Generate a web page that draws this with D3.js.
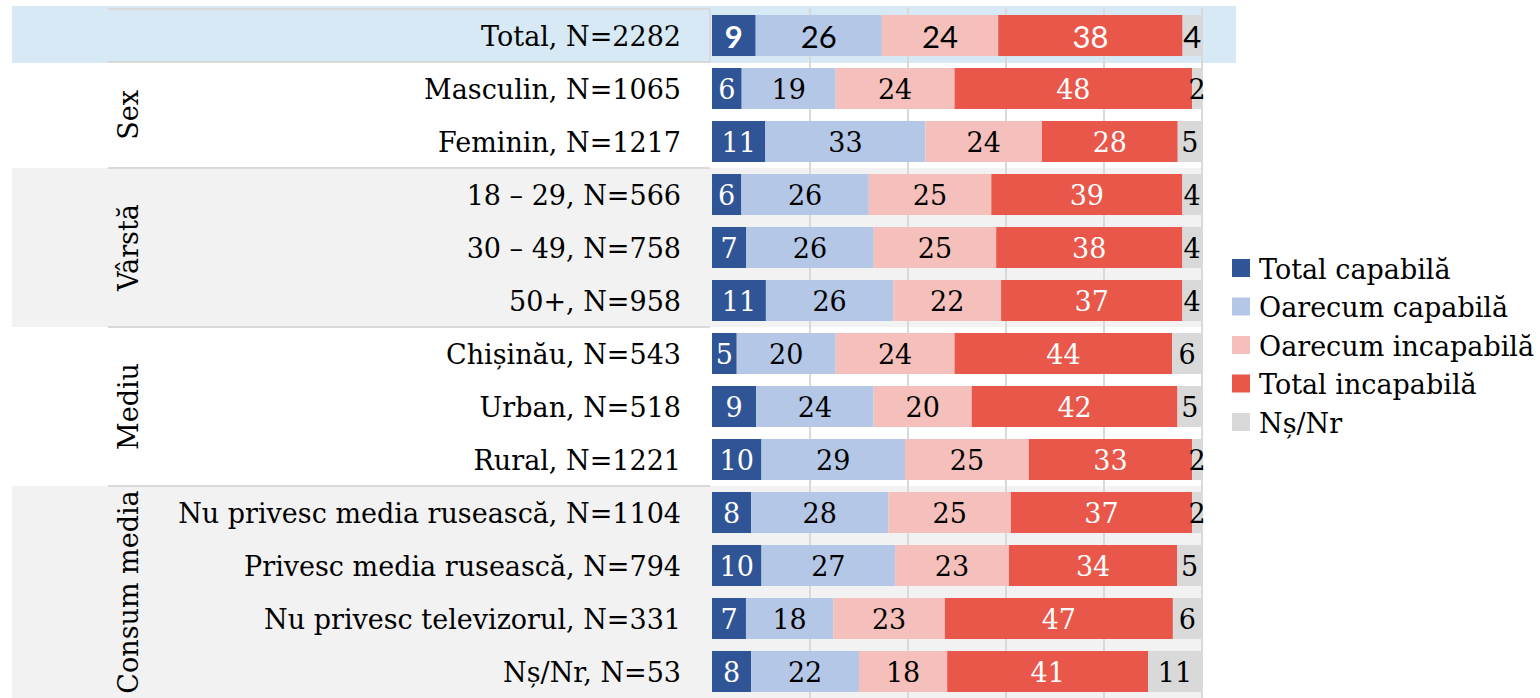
<!DOCTYPE html>
<html>
<head>
<meta charset="utf-8">
<script src="https://cdnjs.cloudflare.com/ajax/libs/d3/7.8.5/d3.min.js"></script>
<style>
    html, body { margin: 0; padding: 0; background: #ffffff; }
    svg { display: block; }
    .serif { font-family: "DejaVu Serif", serif; }
</style>
</head>
<body>
<svg id="chart" width="1540" height="698"></svg>
<script>
// Data
const categories = [
    'Total, N=2282',
    'Masculin, N=1065',
    'Feminin, N=1217',
    '18 – 29, N=566',
    '30 – 49, N=758',
    '50+, N=958',
    'Chișinău, N=543',
    'Urban, N=518',
    'Rural, N=1221',
    'Nu privesc media rusească, N=1104',
    'Privesc media rusească, N=794',
    'Nu privesc televizorul, N=331',
    'Nș/Nr, N=53',
];
const rowGroups = ['', 'Sex', 'Sex', 'Vârstă', 'Vârstă', 'Vârstă', 'Mediu', 'Mediu', 'Mediu',
    'Consum media', 'Consum media', 'Consum media', 'Consum media'];
const shadedGroups = ['Vârstă', 'Consum media'];

const seriesNames = ['Total capabilă', 'Oarecum capabilă', 'Oarecum incapabilă', 'Total incapabilă', 'Nș/Nr'];
const totalCapabila = [9, 6, 11, 6, 7, 11, 5, 9, 10, 8, 10, 7, 8];
const oarecumCapabila = [26, 19, 33, 26, 26, 26, 20, 24, 29, 28, 27, 18, 22];
const oarecumIncapabila = [24, 24, 24, 25, 25, 22, 24, 20, 25, 25, 23, 23, 18];
const totalIncapabila = [38, 48, 28, 39, 38, 37, 44, 42, 33, 37, 34, 47, 41];
const nsNr = [4, 2, 5, 4, 4, 4, 6, 5, 2, 2, 5, 6, 11];
const gridTicks = [0.2, 0.4, 0.6, 0.8, 1];

const colors = ['#2f5597', '#b4c7e7', '#f5c0bb', '#e8574a', '#d9d9d9'];
const labelColors = ['#ffffff', '#000000', '#000000', '#ffffff', '#000000'];

//Helpers
const translate = (x, y) => `translate(${x}, ${y})`;

const width = 1540, height = 698;
const plotLeft = 712, plotRight = 1202;
const lineColor = '#d9d9d9';
const fontSize = 27;

const svg = d3.select('#chart');

// Scales
const x = d3.scaleLinear().domain([0, 1]).range([plotLeft, plotRight]);
const y = d3.scaleBand()
    .domain(categories)
    .range([9, 698])
    .paddingInner(0.226)
    .paddingOuter(0.113);
const gap = (y.step() - y.bandwidth()) / 2;
const rowTop = c => y(c) - gap;
const rowBottom = c => y(c) + y.bandwidth() + gap;

// stacked rows, normalised to each row's total
const seriesValues = [totalCapabila, oarecumCapabila, oarecumIncapabila, totalIncapabila, nsNr];
const rows = categories.map((cat, i) => {
    const vals = seriesValues.map(s => s[i]);
    const sum = d3.sum(vals);
    let acc = 0;
    const segs = vals.map((v, k) => {
        const seg = { cat, k, value: v, x0: acc / sum, x1: (acc + v) / sum };
        acc += v;
        return seg;
    });
    return { cat, idx: i, group: rowGroups[i], segs };
});

// Group extents
const groupNames = Array.from(new Set(rowGroups.filter(g => g)));
const groups = groupNames.map(g => {
    const cats = categories.filter((c, i) => rowGroups[i] === g);
    return { name: g, top: rowTop(cats[0]), bottom: rowBottom(cats.at(-1)) };
});

// Backgrounds
svg.selectAll('rect.groupbg')
    .data(groups.filter(g => shadedGroups.includes(g.name)))
    .join('rect')
    .attr('class', 'groupbg')
    .attr('x', 12)
    .attr('y', d => d.top)
    .attr('width', x(1) + 1 - 12)
    .attr('height', d => d.bottom - d.top)
    .attr('fill', '#f2f2f2');

const totalCat = categories[0];
svg.append('rect')
    .attr('x', 12)
    .attr('y', rowTop(totalCat) - 3)
    .attr('width', 1236 - 12)
    .attr('height', rowBottom(totalCat) - rowTop(totalCat) + 4)
    .attr('fill', '#d6e9f5');

// Row separators (label side)
const sepYs = [rowTop(totalCat), rowBottom(totalCat)].concat(groups.slice(0, -1).map(g => g.bottom));
svg.selectAll('line.sep')
    .data(sepYs)
    .join('line')
    .attr('class', 'sep')
    .attr('x1', 108)
    .attr('x2', 710)
    .attr('y1', d => d)
    .attr('y2', d => d)
    .attr('stroke', lineColor)
    .attr('stroke-width', 2);

svg.append('line')
    .attr('x1', 710).attr('x2', 710)
    .attr('y1', rowTop(totalCat)).attr('y2', rowBottom(totalCat))
    .attr('stroke', lineColor)
    .attr('stroke-width', 2);

// Vertical grid
svg.append('g')
    .attr('class', 'grid')
    .selectAll('line')
    .data(gridTicks)
    .join('line')
    .attr('x1', d => x(d))
    .attr('x2', d => x(d))
    .attr('y1', rowTop(totalCat) - 1)
    .attr('y2', height)
    .attr('stroke', lineColor)
    .attr('stroke-width', 2);

// Bars
const rowG = svg.selectAll('g.row')
    .data(rows)
    .join('g')
    .attr('class', 'row')
    .attr('transform', d => translate(0, y(d.cat)));

rowG.selectAll('rect')
    .data(d => d.segs)
    .join('rect')
    .attr('x', d => x(d.x0))
    .attr('y', 0)
    .attr('width', d => x(d.x1) - x(d.x0))
    .attr('height', y.bandwidth())
    .attr('fill', d => colors[d.k]);

// Bar labels
rowG.each((row, i, nodes) => {
    const isTotal = row.idx === 0;
    d3.select(nodes[i]).selectAll('text')
        .data(row.segs)
        .join('text')
        .attr('class', isTotal ? null : 'serif')
        .attr('x', d => (x(d.x0) + x(d.x1)) / 2)
        .attr('y', y.bandwidth() / 2 + 1)
        .attr('text-anchor', 'middle')
        .attr('dominant-baseline', 'central')
        .attr('font-family', isTotal ? 'Lato, "Open Sans", sans-serif' : null)
        .attr('font-size', isTotal ? 31 : fontSize)
        .attr('font-weight', d => isTotal && d.k === 0 ? 'bold' : 'normal')
        .attr('fill', d => labelColors[d.k])
        .text(d => d.value);
});

// Category labels
svg.append('g')
    .selectAll('text')
    .data(categories)
    .join('text')
    .attr('class', 'serif')
    .attr('x', 681)
    .attr('y', d => y(d) + y.bandwidth() / 2 + 1)
    .attr('text-anchor', 'end')
    .attr('dominant-baseline', 'central')
    .attr('font-size', fontSize)
    .attr('fill', '#000')
    .text(d => d);

// Group labels (rotated)
svg.append('g')
    .selectAll('text')
    .data(groups)
    .join('text')
    .attr('class', 'serif')
    .attr('transform', d => `${translate(128, (d.top + d.bottom) / 2)} rotate(-90)`)
    .attr('text-anchor', 'middle')
    .attr('dominant-baseline', 'central')
    .attr('font-size', fontSize)
    .attr('fill', '#000')
    .text(d => d.name);

// Legend
const legend = svg.append('g')
    .attr('transform', translate(1232, 268));
const legendItem = legend.selectAll('g')
    .data(seriesNames)
    .join('g')
    .attr('transform', (d, i) => translate(0, i * 38.5));
legendItem.append('rect')
    .attr('x', 0)
    .attr('y', -9)
    .attr('width', 18)
    .attr('height', 18)
    .attr('fill', (d, i) => colors[i]);
legendItem.append('text')
    .attr('class', 'serif')
    .attr('x', 27)
    .attr('y', 1)
    .attr('dominant-baseline', 'central')
    .attr('font-size', fontSize)
    .attr('fill', '#000')
    .text(d => d);
</script>
</body>
</html>
